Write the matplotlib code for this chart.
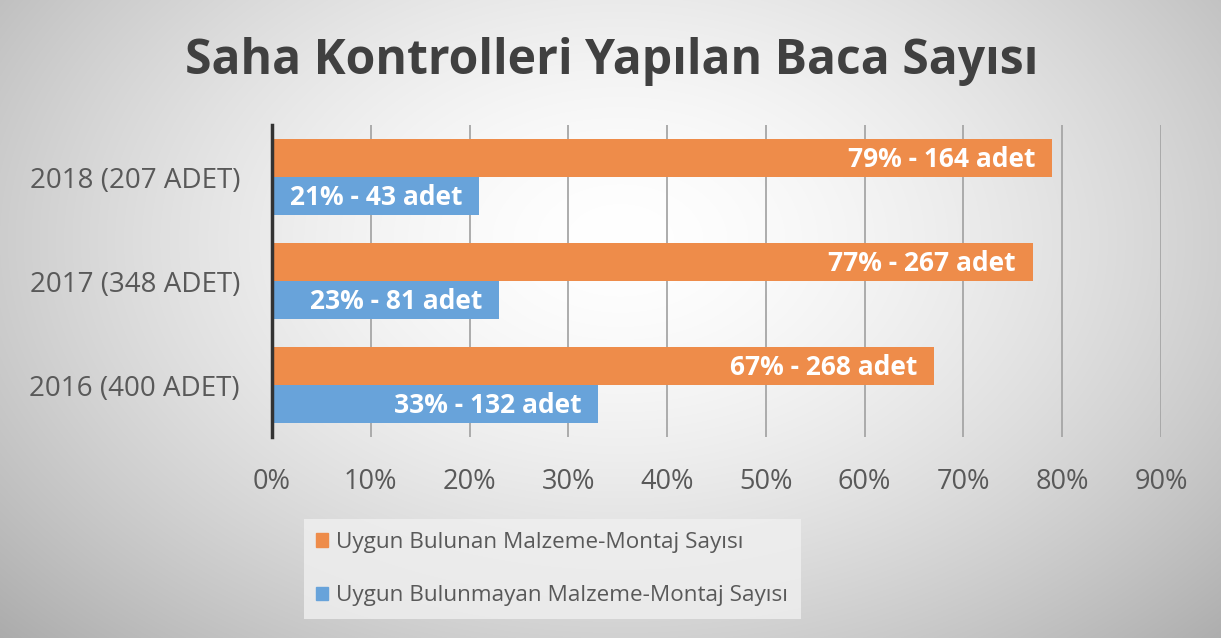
import numpy as np
import matplotlib
matplotlib.use("Agg")
import matplotlib.pyplot as plt
from matplotlib.patches import Patch

categories = ["2016 (400 ADET)", "2017 (348 ADET)", "2018 (207 ADET)"]
uygun_pct = [67, 77, 79]
uygun_adet = [268, 267, 164]
uygunsuz_pct = [33, 23, 21]
uygunsuz_adet = [132, 81, 43]
xticks = [0, 10, 20, 30, 40, 50, 60, 70, 80, 90]
series_names = ["Uygun Bulunan Malzeme-Montaj Sayısı",
                "Uygun Bulunmayan Malzeme-Montaj Sayısı"]
title = "Saha Kontrolleri Yapılan Baca Sayısı"

orange = "#EE8C4A"
blue = "#68A3DA"
txt = "#595959"
FONT = "Open Sans"

fig = plt.figure(figsize=(12.21, 6.38), dpi=100)

# radial gradient background
bg = fig.add_axes([0, 0, 1, 1], zorder=-10)
h, w = 638, 1221
yy, xx = np.mgrid[0:h, 0:w]
r = np.sqrt(((xx - 620) / 740.0) ** 2 + ((yy - 240) / 500.0) ** 2)
val = 1.0 - 0.26 * np.clip(r, 0, 1.3) ** 1.6
img = np.dstack([val, val, val])
bg.imshow(img, extent=[0, 1, 0, 1], aspect="auto", origin="upper")
bg.set_axis_off()

ax = fig.add_axes([272 / 1221, 1 - 437 / 638, (1161 - 272) / 1221, (437 - 125) / 638])
ax.patch.set_alpha(0)

y = np.arange(len(categories))
bh = 0.37
b1 = ax.barh(y + bh / 2, uygun_pct, height=bh, color=orange, zorder=3)
b2 = ax.barh(y - bh / 2, uygunsuz_pct, height=bh, color=blue, zorder=3)

for bars, pcts, adets in [(b1, uygun_pct, uygun_adet), (b2, uygunsuz_pct, uygunsuz_adet)]:
    for rect, p, a in zip(bars, pcts, adets):
        ax.annotate(f"{p}% - {a} adet",
                    xy=(rect.get_width(), rect.get_y() + rect.get_height() / 2),
                    xytext=(-12, -1), textcoords="offset points",
                    ha="right", va="center", color="white",
                    fontsize=19, fontweight="bold", family=FONT, zorder=4)

ax.set_xlim(0, 90)
ax.set_ylim(-0.5, 2.5)
ax.set_xticks(xticks)
ax.set_xticklabels([f"{t}%" for t in xticks], fontsize=19.5, color=txt, family=FONT)
ax.set_yticks(y)
ax.set_yticklabels(categories, fontsize=20, color=txt, family=FONT)
ax.tick_params(axis="both", length=0)
ax.tick_params(axis="x", pad=22)
ax.tick_params(axis="y", pad=23)
ax.xaxis.grid(True, color="#A6A6A6", linewidth=1.3, zorder=0)
ax.set_axisbelow(True)
for s in ["top", "right", "bottom"]:
    ax.spines[s].set_visible(False)
ax.spines["left"].set_color("#333333")
ax.spines["left"].set_linewidth(2.5)
ax.spines["left"].set_zorder(5)

fig.text(612 / 1221, 1 - 62 / 638, title, ha="center", va="center",
         fontsize=34.7, fontweight="bold", color="#404040", family=FONT)

handles = [Patch(color=orange), Patch(color=blue)]
leg = fig.legend(handles, series_names, loc="center",
                 bbox_to_anchor=(552 / 1221, 1 - 569 / 638),
                 ncol=1, frameon=True, handlelength=0.55, handleheight=0.55,
                 handletextpad=0.35, labelspacing=1.45, borderpad=0.55, fancybox=False,
                 prop={"family": FONT, "size": 16.2})
leg.get_frame().set_facecolor("#F0F0F0")
leg.get_frame().set_edgecolor("none")
leg.get_frame().set_alpha(0.8)
for t in leg.get_texts():
    t.set_color(txt)

fig.savefig("out.png", dpi=100)
